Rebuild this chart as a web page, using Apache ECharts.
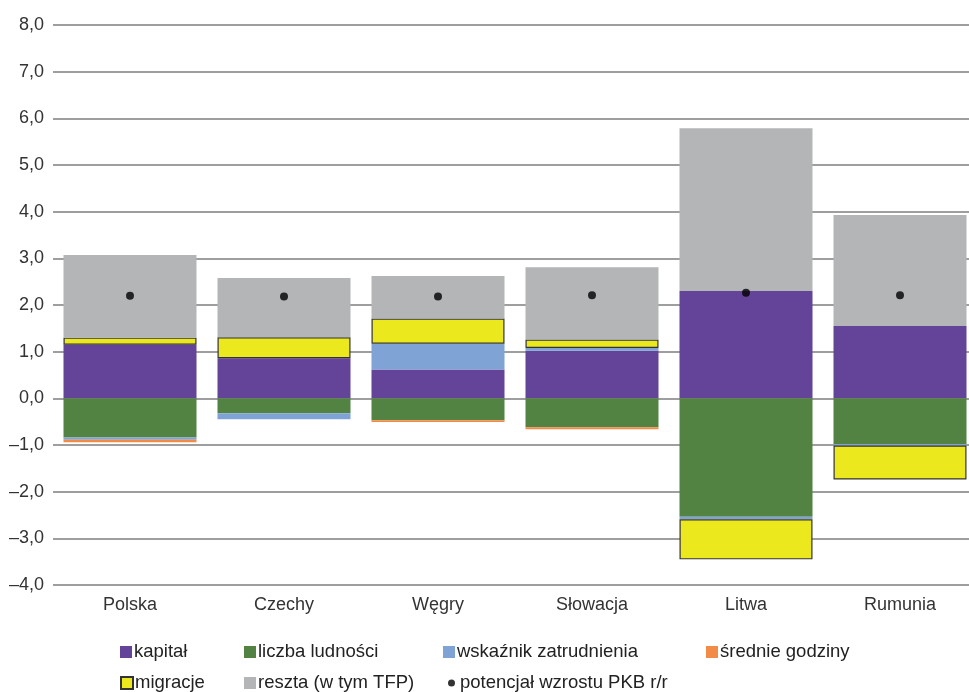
<!DOCTYPE html>
<html lang="pl">
<head>
<meta charset="UTF-8">
<title>Potencjał wzrostu PKB</title>
<script src="https://cdn.jsdelivr.net/npm/echarts@6/dist/echarts.min.js"></script>
<style>
  html, body { margin: 0; padding: 0; background: #fff; }
  #chart { width: 969px; height: 692px; }
</style>
</head>
<body>
<div id="chart"></div>
<script>
// dane
const countries = ['Polska', 'Czechy', 'Węgry', 'Słowacja', 'Litwa', 'Rumunia'];
const kapital = [1.15, 0.86, 0.62, 1.02, 2.30, 1.55];
const liczbaLudnosci = [-0.84, -0.32, -0.47, -0.62, -2.54, -0.98];
const wskaznikZatrudnienia = [-0.05, -0.13, 0.55, 0.06, -0.05, -0.03];
const sredniaGodziny = [-0.05, null, -0.035, -0.04, null, null];
const migracje = [0.15, 0.45, 0.54, 0.18, -0.86, -0.73];
const reszta = [1.77, 1.27, 0.91, 1.55, 3.49, 2.38];
const potencjal = [2.20, 2.18, 2.18, 2.21, 2.26, 2.21];

const FONT = '"Liberation Sans", Arial, sans-serif';

let chart = echarts.init(document.getElementById('chart'));

function bar(name, data, color, extra) {
  return Object.assign({
    name: name,
    type: 'bar',
    stack: 'total',
    barWidth: 133,
    data: data,
    itemStyle: { color: color },
    emphasis: { disabled: true }
  }, extra || {});
}

// jedna legenda na pozycję, żeby ułożyć je w kolumny jak w oryginale
function legendItem(left, top, name, size, icon) {
  return {
    left: left,
    top: top,
    itemWidth: size,
    itemHeight: size,
    icon: icon || 'rect',
    selectedMode: false,
    padding: 0,
    data: [name],
    textStyle: { fontFamily: FONT, fontSize: 18.5, color: '#222', lineHeight: 20, padding: [0, 0, 0, icon ? 0 : -3] }
  };
}

const option = {
  animation: false,
  backgroundColor: '#fff',
  // wykres jest przycięty z prawej, więc obszar wychodzi poza płótno
  grid: { left: 53, top: 25, width: 924, height: 560, outerBoundsMode: 'none', containLabel: false },
  legend: [
    legendItem(120, 642, 'kapitał', 12),
    legendItem(244, 642, 'liczba ludności', 12),
    legendItem(443, 642, 'wskaźnik zatrudnienia', 12),
    legendItem(706, 642, 'średnie godziny', 12),
    legendItem(120, 673, 'migracje', 12),
    legendItem(244, 673, 'reszta (w tym TFP)', 12),
    legendItem(448, 673, 'potencjał wzrostu PKB r/r', 7, 'circle')
  ],
  xAxis: {
    type: 'category',
    data: countries,
    axisLine: { show: false },
    axisTick: { show: false },
    axisLabel: { fontFamily: FONT, fontSize: 18, color: '#333', margin: 11 }
  },
  yAxis: {
    type: 'value',
    min: -4,
    max: 8,
    interval: 1,
    axisLine: { show: false },
    axisTick: { show: false },
    splitLine: { lineStyle: { color: '#9e9e9e', width: 2 } },
    axisLabel: {
      fontFamily: FONT, fontSize: 18, color: '#333', margin: 9,
      formatter: v => v.toFixed(1).replace('.', ',').replace('-', '–')
    }
  },
  series: [
    bar('kapitał', kapital, '#634499'),
    bar('liczba ludności', liczbaLudnosci, '#538342'),
    bar('wskaźnik zatrudnienia', wskaznikZatrudnienia, '#7fa3d4'),
    bar('średnie godziny', sredniaGodziny, '#f28b46'),
    bar('migracje', migracje, '#ebe81d', { itemStyle: { color: '#ebe81d', borderColor: '#333', borderWidth: 1.2 } }),
    bar('reszta (w tym TFP)', reszta, '#b3b5b6'),
    {
      name: 'potencjał wzrostu PKB r/r',
      type: 'scatter',
      data: potencjal,
      symbol: 'circle',
      symbolSize: 8,
      itemStyle: { color: '#000' },
      z: 5,
      emphasis: { disabled: true }
    }
  ]
};

chart.setOption(option);
</script>
</body>
</html>
